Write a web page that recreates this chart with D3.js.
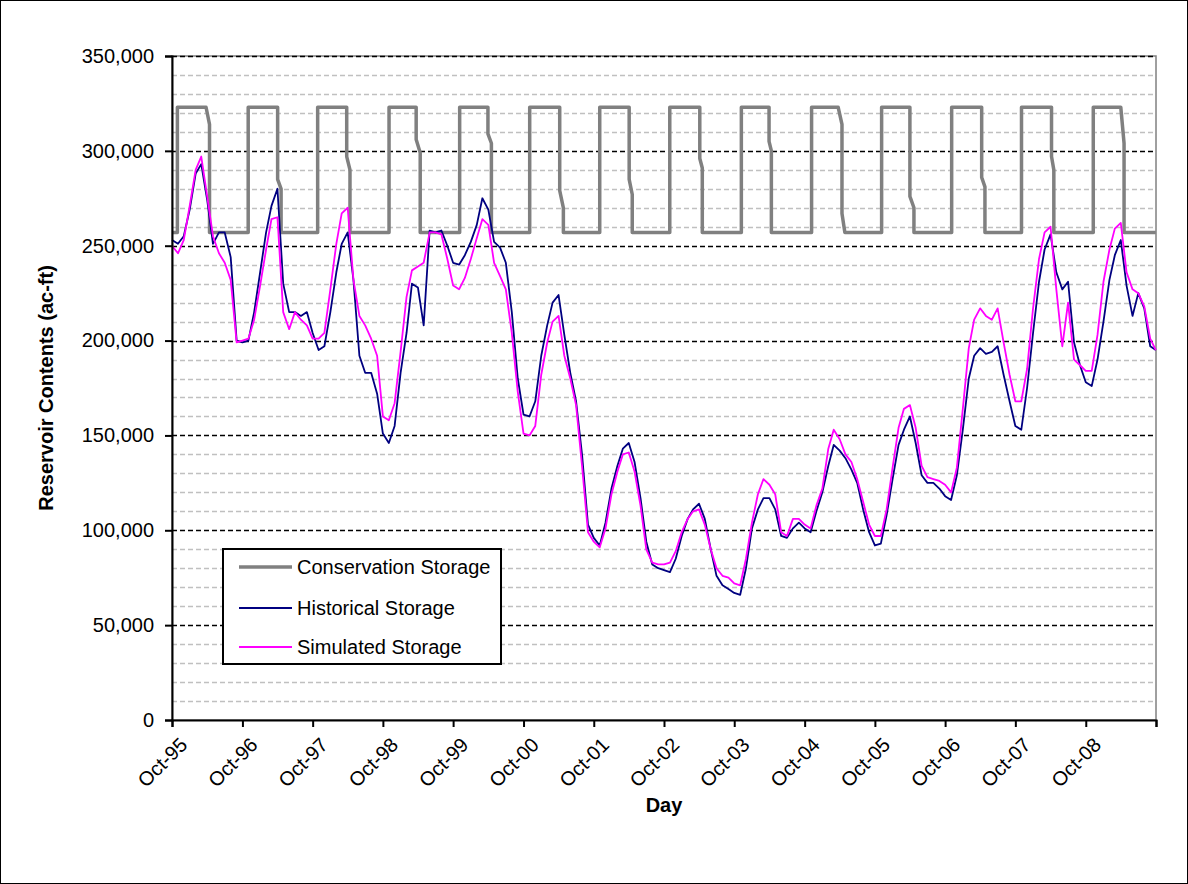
<!DOCTYPE html>
<html>
<head>
<meta charset="utf-8">
<script src="https://cdn.jsdelivr.net/npm/d3@7"></script>
<style>
  body { margin: 0; background: #fff; }
  svg text { font-family: "Liberation Sans", Arial, sans-serif; }
</style>
</head>
<body>
<script>

// ---- data ----

// monthly samples, Oct-95 .. Sep-09, last value is 30-Sep-09
var historical = [
  253000, 251000, 255000, 269000, 288000, 293000, 274000, 251000, 257000, 257000, 244000, 200000,
  199000, 200000, 215000, 236000, 257000, 271000, 280000, 230000, 215000, 215000, 213000, 215000,
  204000, 195000, 197000, 215000, 236000, 251000, 257000, 232000, 192000, 183000, 183000, 172000,
  151000, 146000, 155000, 183000, 204000, 230000, 228000, 208000, 258000, 257000, 258000, 250000,
  241000, 240000, 245000, 252000, 261000, 275000, 269000, 252000, 249000, 241000, 215000, 180000,
  161000, 160000, 168000, 192000, 208000, 220000, 224000, 203000, 183000, 168000, 140000, 103000,
  96000, 92000, 104000, 122000, 134000, 143000, 146000, 136000, 117000, 94000, 82000, 80000,
  79000, 78000, 85000, 97000, 106000, 111000, 114000, 106000, 90000, 76000, 71000, 69000,
  67000, 66000, 80000, 101000, 111000, 117000, 117000, 111000, 97000, 96000, 101000, 104000,
  101000, 99000, 110000, 120000, 134000, 145000, 142000, 138000, 132000, 125000, 111000, 99000,
  92000, 93000, 108000, 127000, 145000, 153000, 160000, 146000, 129000, 125000, 125000, 122000,
  118000, 116000, 129000, 153000, 180000, 192000, 196000, 193000, 194000, 197000, 182000, 168000,
  155000, 153000, 175000, 204000, 231000, 248000, 256000, 236000, 227000, 231000, 199000, 187000,
  178000, 176000, 190000, 210000, 232000, 245000, 253000, 229000, 213000, 225000, 217000, 197000,
  195000
];

var simulated = [
  250000, 246000, 253000, 271000, 290000, 297000, 276000, 255000, 246000, 241000, 232000, 199000,
  200000, 201000, 211000, 229000, 248000, 264000, 265000, 215000, 206000, 215000, 211000, 208000,
  201000, 201000, 204000, 227000, 251000, 267000, 270000, 232000, 213000, 208000, 201000, 192000,
  160000, 158000, 167000, 194000, 223000, 237000, 239000, 241000, 257000, 257000, 256000, 243000,
  229000, 227000, 233000, 243000, 254000, 264000, 261000, 241000, 234000, 227000, 204000, 173000,
  151000, 150000, 155000, 182000, 199000, 210000, 213000, 192000, 180000, 166000, 134000, 99000,
  94000, 91000, 101000, 119000, 131000, 140000, 141000, 131000, 113000, 90000, 83000, 82000,
  82000, 83000, 89000, 99000, 106000, 110000, 111000, 103000, 90000, 80000, 76000, 75000,
  72000, 71000, 85000, 104000, 119000, 127000, 124000, 119000, 99000, 97000, 106000, 106000,
  103000, 101000, 113000, 122000, 143000, 153000, 148000, 140000, 136000, 127000, 115000, 103000,
  97000, 97000, 111000, 133000, 154000, 164000, 166000, 154000, 134000, 128000, 127000, 126000,
  124000, 120000, 133000, 164000, 196000, 211000, 217000, 213000, 211000, 217000, 199000, 182000,
  168000, 168000, 185000, 217000, 243000, 257000, 260000, 227000, 197000, 220000, 190000, 187000,
  184000, 184000, 203000, 231000, 248000, 259000, 262000, 236000, 227000, 225000, 218000, 201000,
  195000
];

// conservation storage outline (corner points)
var consDates = [
  "1995-10-01",
  "1995-10-29", "1995-10-29", "1996-03-26", "1996-04-13", "1996-04-13",
  "1996-10-31", "1996-10-31", "1997-04-02", "1997-04-02", "1997-04-20", "1997-04-20",
  "1997-10-27", "1997-10-27", "1998-03-27", "1998-03-27", "1998-04-13", "1998-04-13",
  "1998-11-02", "1998-11-02", "1999-03-23", "1999-03-23", "1999-04-13", "1999-04-13",
  "1999-11-04", "1999-11-04", "2000-03-30", "2000-03-30", "2000-04-17", "2000-04-17",
  "2000-11-02", "2000-11-02", "2001-04-07", "2001-04-07", "2001-04-26", "2001-04-26",
  "2001-11-01", "2001-11-01", "2002-04-03", "2002-04-03", "2002-04-19", "2002-04-19",
  "2002-10-31", "2002-10-31", "2003-04-05", "2003-04-05", "2003-04-18", "2003-04-18",
  "2003-11-07", "2003-11-07", "2004-03-30", "2004-03-30", "2004-04-11", "2004-04-11",
  "2004-11-06", "2004-11-06", "2005-03-24", "2005-04-13", "2005-04-13", "2005-04-28",
  "2005-11-05", "2005-11-05", "2006-04-01", "2006-04-01", "2006-04-22", "2006-04-22",
  "2006-11-04", "2006-11-04", "2007-04-09", "2007-04-09", "2007-04-26", "2007-04-26",
  "2007-11-02", "2007-11-02", "2008-04-06", "2008-04-06", "2008-04-18", "2008-04-18",
  "2008-11-09", "2008-11-09", "2009-04-01", "2009-04-18", "2009-04-18",
  "2009-09-30"
];
var consValues = [
  257000,
  257000, 323000, 323000, 314000, 257000,
  257000, 323000, 323000, 285000, 280000, 257000,
  257000, 323000, 323000, 297000, 290000, 257000,
  257000, 323000, 323000, 306000, 299000, 257000,
  257000, 323000, 323000, 309000, 304000, 257000,
  257000, 323000, 323000, 279000, 270000, 257000,
  257000, 323000, 323000, 285000, 277000, 257000,
  257000, 323000, 323000, 296000, 291000, 257000,
  257000, 323000, 323000, 305000, 300000, 257000,
  257000, 323000, 323000, 314000, 267000, 257000,
  257000, 323000, 323000, 276000, 270000, 257000,
  257000, 323000, 323000, 286000, 281000, 257000,
  257000, 323000, 323000, 297000, 290000, 257000,
  257000, 323000, 323000, 304000, 257000,
  257000
];

var tickLabels = ["Oct-95", "Oct-96", "Oct-97", "Oct-98", "Oct-99", "Oct-00", "Oct-01",
                  "Oct-02", "Oct-03", "Oct-04", "Oct-05", "Oct-06", "Oct-07", "Oct-08", ""];
var yTicks = [0, 50000, 100000, 150000, 200000, 250000, 300000, 350000];

var seriesNames = ["Conservation Storage", "Historical Storage", "Simulated Storage"];
var seriesColors = ["#808080", "#000080", "#ff00ff"];
var seriesWidths = [3.5, 1.8, 1.8];

// ---- layout ----
var W = 1188, H = 884;
var margin = { top: 56, right: 32, bottom: 164, left: 172 };
var width = W - margin.left - margin.right,
    height = H - margin.top - margin.bottom;

var parse = d3.timeParse("%Y-%m-%d");
var start = parse("1995-10-01"), stop = parse("2009-10-01");

var monthDates = d3.timeMonth.range(start, stop);
monthDates.push(parse("2009-09-30"));

var tickDates = d3.timeYear.range(parse("1995-01-01"), parse("2010-01-01"))
    .map(function (d) { return d3.timeMonth.offset(d, 9); });

var x = d3.scaleTime().domain([start, stop]).range([0, width]);
var y = d3.scaleLinear().domain([0, 350000]).range([height, 0]);

var svg = d3.select("body").append("svg")
    .attr("width", W)
    .attr("height", H);

// chart area border
svg.append("rect")
    .attr("x", 0.5).attr("y", 0.5)
    .attr("width", W - 1).attr("height", H - 1)
    .attr("fill", "#fff")
    .attr("stroke", "#000")
    .attr("stroke-width", 1);

var g = svg.append("g")
    .attr("transform", "translate(" + margin.left + "," + margin.top + ")");

// minor gridlines every 10,000
var minor = d3.range(10000, 350001, 10000).filter(function (v) { return v % 50000 !== 0; });
g.selectAll(".minor")
    .data(minor)
    .enter().append("line")
    .attr("class", "minor")
    .attr("x1", 0).attr("x2", width)
    .attr("y1", function (d) { return Math.round(y(d)) + 0.5; })
    .attr("y2", function (d) { return Math.round(y(d)) + 0.5; })
    .attr("stroke", "#c0c0c0")
    .attr("stroke-width", 1.5)
    .attr("stroke-dasharray", "5,3");

// plot area border (gray)
g.append("rect")
    .attr("x", 0).attr("y", 0)
    .attr("width", width).attr("height", height)
    .attr("fill", "none")
    .attr("stroke", "#808080")
    .attr("stroke-width", 1.5);

// major gridlines every 50,000
g.selectAll(".major")
    .data(yTicks.slice(1))
    .enter().append("line")
    .attr("class", "major")
    .attr("x1", 0).attr("x2", width)
    .attr("y1", function (d) { return Math.round(y(d)) + 0.5; })
    .attr("y2", function (d) { return Math.round(y(d)) + 0.5; })
    .attr("stroke", "#000")
    .attr("stroke-width", 1.5)
    .attr("stroke-dasharray", "5,3");

// series
var line = d3.line()
    .x(function (d) { return x(d[0]); })
    .y(function (d) { return y(d[1]); });

var consData = consDates.map(function (d, i) { return [parse(d), consValues[i]]; });
var histData = monthDates.map(function (d, i) { return [d, historical[i]]; });
var simData = monthDates.map(function (d, i) { return [d, simulated[i]]; });

[consData, histData, simData].forEach(function (data, i) {
    g.append("path")
        .datum(data)
        .attr("fill", "none")
        .attr("stroke", seriesColors[i])
        .attr("stroke-width", seriesWidths[i])
        .attr("stroke-linejoin", "round")
        .attr("d", line);
});

// y axis
var yAxis = d3.axisLeft(y)
    .tickValues(yTicks)
    .tickSize(7)
    .tickPadding(11)
    .tickFormat(d3.format(","));

var yg = g.append("g").attr("class", "y axis").call(yAxis);

// x axis
var xAxis = d3.axisBottom(x)
    .tickValues(tickDates)
    .tickSize(7)
    .tickFormat(function (d, i) { return tickLabels[i]; });

var xg = g.append("g")
    .attr("class", "x axis")
    .attr("transform", "translate(0," + height + ")")
    .call(xAxis);

[yg, xg].forEach(function (ax) {
    ax.select(".domain").attr("stroke", "#000").attr("stroke-width", 2);
    ax.selectAll(".tick line").attr("stroke", "#000").attr("stroke-width", 2);
    ax.selectAll("text")
        .attr("fill", "#000")
        .style("font-size", "20px")
        .style("font-family", "'Liberation Sans', Arial, sans-serif");
});

xg.selectAll("text")
    .attr("text-anchor", "end")
    .attr("dy", "0.35em")
    .attr("transform", "translate(4,14) rotate(-45)");

// axis titles
svg.append("text")
    .attr("transform", "translate(53," + (margin.top + height / 2) + ") rotate(-90)")
    .attr("text-anchor", "middle")
    .style("font-size", "20px")
    .style("font-weight", "bold")
    .text("Reservoir Contents (ac-ft)");

svg.append("text")
    .attr("x", margin.left + width / 2)
    .attr("y", 812)
    .attr("text-anchor", "middle")
    .style("font-size", "20px")
    .style("font-weight", "bold")
    .text("Day");

// legend
var legend = svg.append("g").attr("transform", "translate(223,549)");

legend.append("rect")
    .attr("x", 0).attr("y", 0)
    .attr("width", 278).attr("height", 115)
    .attr("fill", "#fff")
    .attr("stroke", "#000")
    .attr("stroke-width", 2);

var rows = [18, 59, 98];
seriesNames.forEach(function (name, i) {
    legend.append("line")
        .attr("x1", 16).attr("x2", 69)
        .attr("y1", rows[i]).attr("y2", rows[i])
        .attr("stroke", seriesColors[i])
        .attr("stroke-width", seriesWidths[i]);
    legend.append("text")
        .attr("x", 74)
        .attr("y", rows[i])
        .attr("dy", "0.35em")
        .style("font-size", "20px")
        .text(name);
});

</script>
</body>
</html>
